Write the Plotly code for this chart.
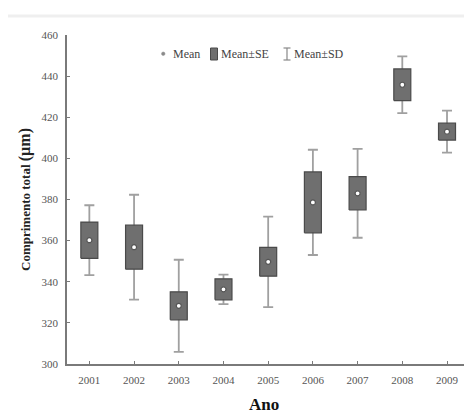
import plotly.graph_objects as go

# Total length (µm) per year: mean, standard error and standard deviation
years = [2001, 2002, 2003, 2004, 2005, 2006, 2007, 2008, 2009]
means = [360.2, 356.8, 328.3, 336.3, 349.7, 378.6, 383.0, 435.8, 413.0]
se = [8.8, 10.7, 6.8, 5.1, 7.0, 14.8, 8.1, 7.7, 4.1]
sd = [17.0, 25.5, 22.4, 7.2, 22.0, 25.6, 21.6, 13.8, 10.2]

y_ticks = [300, 320, 340, 360, 380, 400, 420, 440, 460]

BOX_FILL = "#6f6f6f"
BOX_EDGE = "#4a4a4a"
WHISKER = "#a0a0a0"
SERIF = "Liberation Serif"
BOX_HALF = 0.19  # half box width in year units

# plot-area geometry in pixels (figure is 464 x 418)
L, R, T, B = 67, 0, 35, 54
W, H = 464, 418
PW, PH = W - L - R, H - T - B


def px(x):
    return (x - L) / PW


def py(y):
    return (H - B - y) / PH


fig = go.Figure()

# Mean ± SD whiskers (drawn first so the boxes cover their middle part)
fig.add_trace(go.Scatter(
    x=years,
    y=means,
    mode="markers",
    marker=dict(size=1, color="rgba(0,0,0,0)"),
    error_y=dict(type="data", array=sd, color=WHISKER, thickness=1.8, width=5),
    showlegend=False,
    hoverinfo="skip",
))

# Mean ± SE boxes as closed polygons
bx, by = [], []
for yr, m, s in zip(years, means, se):
    bx += [yr - BOX_HALF, yr + BOX_HALF, yr + BOX_HALF, yr - BOX_HALF, yr - BOX_HALF, None]
    by += [m - s, m - s, m + s, m + s, m - s, None]
fig.add_trace(go.Scatter(
    x=bx, y=by,
    mode="lines",
    fill="toself",
    fillcolor=BOX_FILL,
    line=dict(color=BOX_EDGE, width=1.2),
    showlegend=False,
    hoverinfo="skip",
))

# Means
fig.add_trace(go.Scatter(
    x=years,
    y=means,
    mode="markers",
    marker=dict(size=5, color="white", line=dict(color="#555555", width=1.2)),
    showlegend=False,
    hoverinfo="skip",
))

shapes = [
    # faint rule across the top of the figure
    dict(type="line", xref="paper", yref="paper",
         x0=px(8), x1=px(464), y0=py(16), y1=py(16),
         line=dict(color="#efefef", width=3)),
    # legend: mean dot
    dict(type="circle", xref="paper", yref="paper",
         x0=px(161.5), x1=px(165), y0=py(55.5), y1=py(52),
         fillcolor="#8a8a8a", line=dict(color="#8a8a8a", width=0.5)),
    # legend: SE box
    dict(type="rect", xref="paper", yref="paper",
         x0=px(210.5), x1=px(217.5), y0=py(60), y1=py(48),
         fillcolor=BOX_FILL, line=dict(color=BOX_EDGE, width=1)),
    # legend: SD whisker
    dict(type="line", xref="paper", yref="paper",
         x0=px(287), x1=px(287), y0=py(60), y1=py(48),
         line=dict(color="#888888", width=1.2)),
    dict(type="line", xref="paper", yref="paper",
         x0=px(283.5), x1=px(290.5), y0=py(48), y1=py(48),
         line=dict(color="#888888", width=1.2)),
    dict(type="line", xref="paper", yref="paper",
         x0=px(283.5), x1=px(290.5), y0=py(60), y1=py(60),
         line=dict(color="#888888", width=1.2)),
]

legend_font = dict(family=SERIF, size=12, color="#444444")
annotations = [
    dict(text="Mean", x=px(171), y=py(54), xref="paper", yref="paper",
         xanchor="left", yanchor="middle", showarrow=False, font=legend_font),
    dict(text="Mean±SE", x=px(219), y=py(54), xref="paper", yref="paper",
         xanchor="left", yanchor="middle", showarrow=False, font=legend_font),
    dict(text="Mean±SD", x=px(292), y=py(54), xref="paper", yref="paper",
         xanchor="left", yanchor="middle", showarrow=False, font=legend_font),
    dict(text="Comprimento total <span style='font-size:16px'>(µm)</span>",
         x=px(25), y=py(200), xref="paper", yref="paper",
         xanchor="center", yanchor="middle", textangle=-90, showarrow=False,
         font=dict(family=SERIF, size=13, color="#222222", weight="bold")),
    dict(text="Ano", x=px(264), y=py(416), xref="paper", yref="paper",
         xanchor="center", yanchor="bottom", showarrow=False,
         font=dict(family=SERIF, size=17, color="#111111", weight="bold")),
]

axis_common = dict(
    showline=True, linecolor="#7a7a7a", linewidth=1.5,
    ticks="inside", ticklen=3, tickcolor="#7a7a7a", tickwidth=1,
    showgrid=False, zeroline=False,
    tickfont=dict(family=SERIF, size=11, color="#555555"),
)

fig.update_layout(
    width=W, height=H,
    margin=dict(l=L, r=R, t=T, b=B),
    paper_bgcolor="white", plot_bgcolor="white",
    xaxis=dict(range=[2000.5, 2009.38], tickvals=years,
               ticktext=[str(y) for y in years], ticklabelstandoff=5,
               **axis_common),
    yaxis=dict(range=[300, 460], tickvals=y_ticks, ticklabelstandoff=5,
               **axis_common),
    shapes=shapes,
    annotations=annotations,
)

fig.write_html("out.html")
